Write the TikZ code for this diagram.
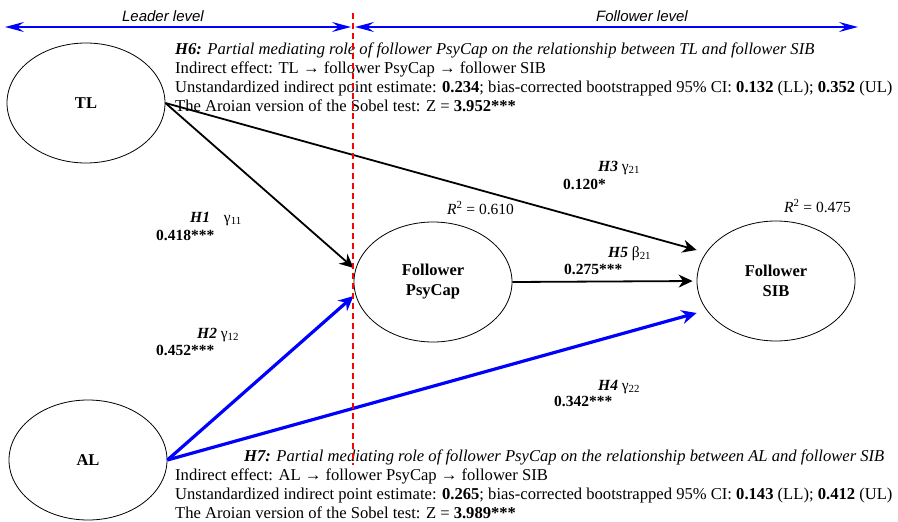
\documentclass[tikz,border=0pt]{standalone}
\usepackage{fontspec}
\setmainfont{Liberation Serif}
\newfontfamily\levelfont{Liberation Sans}
\usetikzlibrary{arrows.meta,shapes.geometric}

\newcommand{\coefsub}[1]{\textsubscript{#1}}

\tikzset{
  construct/.style={draw, ellipse, line width=0.8pt, minimum width=158pt,
    minimum height=120pt, inner sep=0pt, align=center,
    font=\fontsize{16.5}{20}\selectfont\bfseries},
  tlpath/.style={draw, line width=1.8pt, black},
  alpath/.style={draw, line width=3.2pt, blue,
    -{Stealth[length=15pt,width=14pt,inset=5pt]}},
  levelline/.style={draw, line width=1.8pt, blue,
    {Stealth[length=19pt,width=10pt,inset=7pt]}-{Stealth[length=19pt,width=10pt,inset=7pt]}},
  levellabel/.style={font=\fontsize{15}{18}\selectfont\levelfont\itshape},
  divider/.style={draw, red, line width=1.2pt, dash pattern=on 6pt off 4pt},
  coef/.style={anchor=base west, inner sep=0pt},
  block/.style={anchor=base west, inner sep=0pt, align=left,
    font=\fontsize{16.6}{19}\selectfont},
}

\begin{document}
\begin{tikzpicture}[x=1pt, y=-1pt,
  >={Stealth[length=14pt,width=13pt,inset=4.5pt]},
  font=\fontsize{15.5}{19}\selectfont]
  \useasboundingbox (0,0) rectangle (898,522);

  % latent constructs
  \node[construct] (tl)     at (86,103)  {TL};
  \node[construct] (al)     at (88,460)  {AL};
  \node[construct] (psycap) at (433,282) {Follower\\PsyCap};
  \node[construct] (sib)    at (776,281) {Follower\\SIB};

  % levels
  \coordinate (leaderL) at (5,27);
  \coordinate (leaderR) at (351,27);
  \coordinate (followerL) at (355,27);
  \coordinate (followerR) at (858,27);
  \draw[levelline] (leaderL) -- (leaderR);
  \draw[levelline] (followerL) -- (followerR);
  \node[levellabel] (leader)   at (163,16) {Leader level};
  \node[levellabel] (follower) at (642,16) {Follower level};

  % paths
  \path[->]
    (tl.east) edge[tlpath] ([yshift=14pt]psycap.west)
    (tl.east) edge[tlpath] ([yshift=31pt]sib.west)
    (psycap.east) edge[tlpath, shorten >=4pt] (sib.west)
    (al.east) edge[alpath] ([yshift=-14pt]psycap.west)
    (al.east) edge[alpath] ([yshift=-32pt]sib.west)
    ;

  % coefficients
  \node[coef] (h1)  at (190,222) {\textbf{\textit{H1}}\hspace{0.9em}γ\coefsub{11}};
  \node[coef] (b1)  at (156,240) {\textbf{0.418***}};
  \node[coef] (h2)  at (197,338) {\textbf{\textit{H2}} γ\coefsub{12}};
  \node[coef] (b2)  at (156,355) {\textbf{0.452***}};
  \node[coef] (h3)  at (598,171) {\textbf{\textit{H3}} γ\coefsub{21}};
  \node[coef] (b3)  at (563,189) {\textbf{0.120*}};
  \node[coef] (h5)  at (608,257) {\textbf{\textit{H5}} β\coefsub{21}};
  \node[coef] (b5)  at (564,274) {\textbf{0.275***}};
  \node[coef] (h4)  at (598,390) {\textbf{\textit{H4}} γ\coefsub{22}};
  \node[coef] (b4)  at (554,406) {\textbf{0.342***}};
  \node[coef] (r2p) at (447,214) {\textit{R}\textsuperscript{2} = 0.610};
  \node[coef] (r2s) at (784,212) {\textit{R}\textsuperscript{2} = 0.475};

  % indirect effects (base = last line)
  \node[block] (h6) at (175,111) {\textbf{\textit{H6:}} \textit{Partial mediating role of follower PsyCap on the relationship between TL and follower SIB}\\
    Indirect effect: TL → follower PsyCap → follower SIB\\
    Unstandardized indirect point estimate: \textbf{0.234}; bias-corrected bootstrapped 95\% CI: \textbf{0.132} (LL); \textbf{0.352} (UL)\\
    The Aroian version of the Sobel test: Z = \textbf{3.952***}};
  \node[block] (h7head) at (244,461) {\textbf{\textit{H7:}} \textit{Partial mediating role of follower PsyCap on the relationship between AL and follower SIB}};
  \node[block] (h7) at (175,518) {Indirect effect: AL → follower PsyCap → follower SIB\\
    Unstandardized indirect point estimate: \textbf{0.265}; bias-corrected bootstrapped 95\% CI: \textbf{0.143} (LL); \textbf{0.412} (UL)\\
    The Aroian version of the Sobel test: Z = \textbf{3.989***}};

  % level divider
  \coordinate (divtop) at (353,13);
  \coordinate (divbot) at (353,465);
  \draw[divider] (divtop) -- (divbot);
\end{tikzpicture}
\end{document}
